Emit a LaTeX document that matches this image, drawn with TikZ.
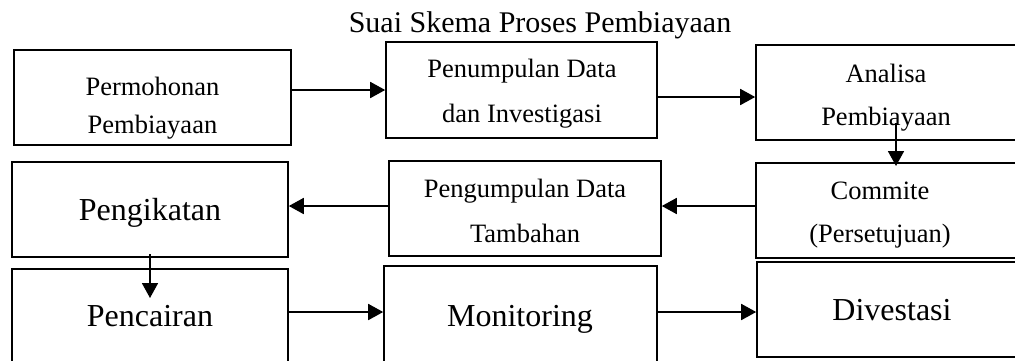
\documentclass[tikz,border=0pt]{standalone}
\usepackage{fontspec}
\setmainfont{Liberation Serif}
\usetikzlibrary{arrows.meta,fit}
\begin{document}
\begin{tikzpicture}[x=1pt,y=-1pt,
  box/.style={draw=black,line width=1.6pt,inner sep=0pt,rectangle},
  small/.style={font=\fontsize{26.5}{30}\selectfont,anchor=base,inner sep=0pt},
  big/.style={font=\fontsize{32}{36}\selectfont,anchor=base,inner sep=0pt},
  ttl/.style={font=\fontsize{30}{34}\selectfont,anchor=base,inner sep=0pt},
  arr/.style={line width=1.8pt,-{Triangle[length=15pt,width=16pt]}}]
\useasboundingbox (0,0) rectangle (1015,360);

\node[ttl] (title) at (540,32) {Suai Skema Proses Pembiayaan};

% boxes
\node[box,fit={(14,50) (291,145)}] (b1) {};
\node[box,fit={(386,42) (657,138)}] (b2) {};
\node[box,fit={(756,45) (1030,140)}] (b3) {};
\node[box,fit={(12,162) (288,257)}] (b4) {};
\node[box,fit={(389,161) (661,256)}] (b5) {};
\node[box,fit={(756,163) (1030,258)}] (b6) {};
\node[box,fit={(12,269) (288,380)}] (b7) {};
\node[box,fit={(384,266) (657,380)}] (b8) {};
\node[box,fit={(757,262) (1030,357)}] (b9) {};

% texts
\node[small] (t1a) at (152.5,95) {Permohonan};
\node[small] (t1b) at (152.5,133) {Pembiayaan};
\node[small] (t2a) at (522,77) {Penumpulan Data};
\node[small] (t2b) at (522,122) {dan Investigasi};
\node[small] (t3a) at (886,82) {Analisa};
\node[small] (t3b) at (886,125) {Pembiayaan};
\node[big] (t4) at (150,220) {Pengikatan};
\node[small] (t5a) at (525,197) {Pengumpulan Data};
\node[small] (t5b) at (525,242) {Tambahan};
\node[small] (t6a) at (880,199) {Commite};
\node[small] (t6b) at (880,242) {(Persetujuan)};
\node[big] (t7) at (150,326) {Pencairan};
\node[big] (t8) at (520,326) {Monitoring};
\node[big] (t9) at (892,320) {Divestasi};

% arrow anchor points
\coordinate (y1) at (0,90);
\coordinate (y2) at (0,97);
\coordinate (a3s) at (896,123);
\coordinate (a3e) at (896,166);
\coordinate (y4) at (0,206);
\coordinate (a6s) at (150,254);
\coordinate (a6e) at (150,298);
\coordinate (y7) at (0,312);

% connectors
\draw[arr] (b1.east |- y1) -- (b2.west |- y1);
\draw[arr] (b2.east |- y2) -- (b3.west |- y2);
\draw[arr] (a3s) -- (a3e);
\draw[arr] (b6.west |- y4) -- (b5.east |- y4);
\draw[arr] (b5.west |- y4) -- (b4.east |- y4);
\draw[arr] (a6s) -- (a6e);
\draw[arr] (b7.east |- y7) -- (b8.west |- y7);
\draw[arr] (b8.east |- y7) -- (b9.west |- y7);
\end{tikzpicture}
\end{document}
